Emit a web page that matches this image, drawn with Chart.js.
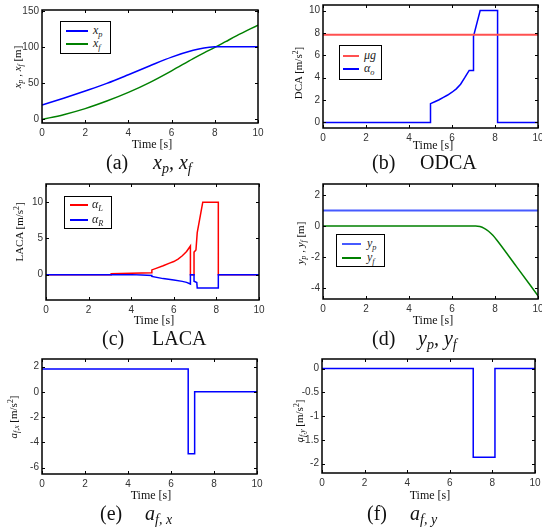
<!DOCTYPE html>
<html>
<head>
<meta charset="utf-8">
<script src="https://cdn.jsdelivr.net/npm/chart.js@4.4.1/dist/chart.umd.min.js"></script>
<style>
  html, body { margin: 0; padding: 0; background: #fff; overflow: hidden; }
  body { width: 542px; height: 529px; position: relative; font-family: "Liberation Serif", "Times New Roman", serif; color: #111; }
  canvas { position: absolute; }
  .lbl { position: absolute; white-space: nowrap; line-height: 1; }
  .ytitle { font-size: 11px; transform: translate(-50%, -50%) rotate(-90deg); }
  .xtitle { font-size: 12px; transform: translate(-50%, -50%); }
  .cap { font-size: 20px; transform: translateY(-50%); }
  sub { font-size: 0.7em; vertical-align: -0.3em; line-height: 0; }
  sup { font-size: 0.7em; vertical-align: 0.4em; line-height: 0; }
  .legend { position: absolute; background: #fff; border: 1px solid #000; box-sizing: border-box; }
  .legend .ln { position: absolute; }
  .legend .tx { position: absolute; font-size: 12px; font-style: italic; line-height: 1; color: #222; transform: translateY(-55%); }
</style>
</head>
<body>
<script>
// shared time ticks
const timeTicks = [0, 2, 4, 6, 8, 10];

// (a) x_p, x_f
const tA = [0, 1, 2, 3, 4, 5, 6, 7, 7.5, 8, 8.5, 9, 10];
const xP = [20, 29.5, 39.5, 50, 62, 74.5, 86.5, 96, 99.3, 100.8, 101, 101, 101];
const xF = [0, 6.6, 15, 25.5, 37.5, 51.5, 67.5, 84.5, 92.5, 100, 108, 116, 131];
const yTicksA = [0, 50, 100, 150];

// (b) ODCA
const tMu = [0, 10];
const muG = [7.84, 7.84];
const tB = [0, 5, 5, 5.2, 5.4, 5.6, 5.8, 6, 6.2, 6.4, 6.6, 6.7, 6.8, 7, 7, 7.31, 8.12, 8.12, 10];
const aO = [0, 0, 1.68, 1.85, 2.03, 2.24, 2.45, 2.7, 3.0, 3.42, 4.02, 4.35, 4.65, 4.65, 7.7, 10, 10, 0, 0];
const yTicksB = [0, 2, 4, 6, 8, 10];

// (c) LACA
const tL = [0, 3.06, 3.06, 4.97, 4.97, 5.2, 5.5, 5.8, 6.0, 6.2, 6.4, 6.6, 6.78, 6.78, 6.95, 6.95, 7.04, 7.1, 7.36, 8.09, 8.09, 10];
const aL = [0, 0, 0.12, 0.25, 0.65, 0.9, 1.22, 1.58, 1.8, 2.15, 2.6, 3.2, 3.95, 0, 0, 3.1, 3.4, 5.8, 10, 10, 0, 0];
const tR = [0, 4.0, 4.5, 4.97, 4.97, 5.5, 6.0, 6.4, 6.6, 6.78, 6.78, 6.95, 6.95, 7.08, 7.1, 8.09, 8.09, 10];
const aR = [0, 0, -0.05, -0.12, -0.25, -0.55, -0.74, -0.93, -1.07, -1.3, 0, 0, -0.92, -1.1, -1.86, -1.86, 0, 0];
const yTicksC = [0, 5, 10];

// (d) y_p, y_f
const tYp = [0, 10];
const yP = [1, 1];
const tYf = [0, 7.1, 7.3, 7.5, 7.7, 7.9, 8.1, 9, 10];
const yF = [0, 0, -0.04, -0.15, -0.34, -0.6, -0.94, -2.62, -4.49];
const yTicksD = [-4, -2, 0, 2];

// (e) a_f,x
const tAx = [0, 6.8, 6.8, 7.1, 7.1, 10];
const aFx = [1.8, 1.8, -4.9, -4.9, 0, 0];
const yTicksE = [-6, -4, -2, 0, 2];

// (f) a_f,y
const tAy = [0, 7.1, 7.1, 8.12, 8.12, 10];
const aFy = [0, 0, -1.87, -1.87, 0, 0];
const yTicksF = [-2, -1.5, -1, -0.5, 0];

const BLUE = 'rgb(0,0,255)', GREEN = 'rgb(0,128,0)', RED = 'rgb(255,0,0)';
const LIGHTRED = 'rgb(255,80,80)', LIGHTBLUE = 'rgb(70,90,255)';

function pts(ts, vs) {
  return ts.map((t, i) => ({ x: t, y: vs[i] }));
}

function line(ts, vs, color, width, smooth) {
  return {
    data: pts(ts, vs), borderColor: color, borderWidth: width || 1.5,
    pointRadius: 0, fill: false, tension: 0,
    cubicInterpolationMode: smooth ? 'monotone' : 'default'
  };
}

// matlab style box with inward ticks on every side
const boxPlugin = {
  id: 'matlabBox',
  afterDatasetsDraw(chart) {
    const { ctx, chartArea: a } = chart;
    const sx = chart.scales.x, sy = chart.scales.y;
    ctx.save();
    ctx.strokeStyle = '#000';
    ctx.lineWidth = 1;
    ctx.beginPath();
    sx.ticks.forEach(t => {
      const px = Math.round(sx.getPixelForValue(t.value)) + 0.5;
      ctx.moveTo(px, a.bottom); ctx.lineTo(px, a.bottom - 3);
      ctx.moveTo(px, a.top); ctx.lineTo(px, a.top + 3);
    });
    sy.ticks.forEach(t => {
      const py = Math.round(sy.getPixelForValue(t.value)) + 0.5;
      ctx.moveTo(a.left, py); ctx.lineTo(a.left + 3, py);
      ctx.moveTo(a.right, py); ctx.lineTo(a.right - 3, py);
    });
    ctx.stroke();
    ctx.lineWidth = 1.5;
    ctx.strokeRect(a.left, a.top, a.right - a.left, a.bottom - a.top);
    ctx.restore();
  }
};

function makePanel(area, yMin, yMax, yTicks, datasets) {
  const padTop = 12, padRight = 14, yW = 36, xH = 22;
  const cv = document.createElement('canvas');
  cv.width = area.r - area.l + yW + padRight;
  cv.height = area.b - area.t + padTop + xH;
  cv.style.left = (area.l - yW) + 'px';
  cv.style.top = (area.t - padTop) + 'px';
  document.body.appendChild(cv);
  const tickFont = { family: '"Liberation Sans", Arial, sans-serif', size: 10 };
  new Chart(cv, {
    type: 'line',
    data: { datasets: datasets },
    options: {
      responsive: false,
      animation: false,
      devicePixelRatio: 1,
      layout: { padding: { left: 0, top: padTop, right: padRight, bottom: 0 } },
      plugins: { legend: { display: false }, tooltip: { enabled: false } },
      scales: {
        x: {
          type: 'linear', min: 0, max: 10,
          grid: { display: false, drawTicks: false }, border: { display: false },
          ticks: { font: tickFont, color: '#333', padding: 4, autoSkip: false, maxRotation: 0, callback: v => String(v) },
          afterBuildTicks: s => { s.ticks = timeTicks.map(v => ({ value: v })); },
          afterFit: s => { s.height = xH; }
        },
        y: {
          type: 'linear', min: yMin, max: yMax,
          grid: { display: false, drawTicks: false }, border: { display: false },
          ticks: { font: tickFont, color: '#333', padding: 3, autoSkip: false, callback: v => String(v) },
          afterBuildTicks: s => { s.ticks = yTicks.map(v => ({ value: v })); },
          afterFit: s => { s.width = yW; }
        }
      }
    },
    plugins: [boxPlugin]
  });
}

function addText(cls, html, x, y) {
  const d = document.createElement('div');
  d.className = 'lbl ' + cls;
  d.innerHTML = html;
  d.style.left = x + 'px';
  d.style.top = y + 'px';
  document.body.appendChild(d);
}

function addLegend(x, y, w, h, rows) {
  const box = document.createElement('div');
  box.className = 'legend';
  Object.assign(box.style, { left: x + 'px', top: y + 'px', width: w + 'px', height: h + 'px' });
  rows.forEach(r => {
    const ln = document.createElement('div');
    ln.className = 'ln';
    Object.assign(ln.style, { left: r.lx + 'px', top: (r.dy - r.lw / 2) + 'px', width: r.len + 'px', height: r.lw + 'px', backgroundColor: r.color });
    box.appendChild(ln);
    const tx = document.createElement('div');
    tx.className = 'tx';
    tx.innerHTML = r.html;
    Object.assign(tx.style, { left: r.tx + 'px', top: r.dy + 'px' });
    box.appendChild(tx);
  });
  document.body.appendChild(box);
}

// panels
makePanel({ l: 42, t: 10, r: 258, b: 123 }, -5, 152, yTicksA, [
  line(tA, xP, BLUE, 1.5, true),
  line(tA, xF, GREEN, 1.5, true)
]);
makePanel({ l: 323, t: 5, r: 538, b: 128 }, -0.5, 10.5, yTicksB, [
  line(tMu, muG, LIGHTRED, 2),
  line(tB, aO, BLUE, 1.5)
]);
makePanel({ l: 46, t: 184, r: 259, b: 300 }, -3.5, 12.5, yTicksC, [
  line(tR, aR, BLUE, 1.5),
  line(tL, aL, RED, 1.5)
]);
makePanel({ l: 323, t: 184, r: 538, b: 299 }, -4.7, 2.7, yTicksD, [
  line(tYp, yP, LIGHTBLUE, 2),
  line(tYf, yF, GREEN, 1.5, true)
]);
makePanel({ l: 42, t: 359, r: 257, b: 474 }, -6.5, 2.6, yTicksE, [
  line(tAx, aFx, BLUE, 1.5)
]);
makePanel({ l: 322, t: 359, r: 535, b: 473 }, -2.2, 0.2, yTicksF, [
  line(tAy, aFy, BLUE, 1.5)
]);

// x axis titles
[[152, 144], [433, 145], [154, 320], [433, 320], [151, 495], [430, 495]].forEach(p => addText('xtitle', 'Time [s]', p[0], p[1]));

// y axis titles
addText('ytitle', '<i>x<sub>p</sub></i> , <i>x<sub>f</sub></i> [m]', 17, 67);
addText('ytitle', 'DCA [m/s<sup>2</sup>]', 298, 73);
addText('ytitle', 'LACA [m/s<sup>2</sup>]', 19, 232);
addText('ytitle', '<i>y<sub>p</sub></i> , <i>y<sub>f</sub></i> [m]', 300, 243);
addText('ytitle', '<i>a<sub>f,x</sub></i> [m/s<sup>2</sup>]', 13, 417);
addText('ytitle', '<i>a<sub>f,y</sub></i> [m/s<sup>2</sup>]', 299, 421);

// captions
addText('cap', '(a)', 106, 162);
addText('cap', '<i>x<sub>p</sub>, x<sub>f</sub></i>', 153, 162);
addText('cap', '(b)', 372, 162);
addText('cap', 'ODCA', 420, 162);
addText('cap', '(c)', 102, 338);
addText('cap', 'LACA', 152, 338);
addText('cap', '(d)', 372, 338);
addText('cap', '<i>y<sub>p</sub>, y<sub>f</sub></i>', 418, 338);
addText('cap', '(e)', 100, 513);
addText('cap', '<i>a<sub>f, x</sub></i>', 145, 513);
addText('cap', '(f)', 367, 513);
addText('cap', '<i>a<sub>f, y</sub></i>', 410, 513);

// legends
addLegend(60, 21, 51, 33, [
  { dy: 9, lx: 5, len: 22, lw: 1.5, color: BLUE, tx: 32, html: 'x<sub>p</sub>' },
  { dy: 22, lx: 5, len: 22, lw: 1.5, color: GREEN, tx: 32, html: 'x<sub>f</sub>' }
]);
addLegend(339, 45, 43, 35, [
  { dy: 10, lx: 3, len: 16, lw: 2, color: LIGHTRED, tx: 24, html: 'μg' },
  { dy: 23, lx: 3, len: 16, lw: 1.5, color: BLUE, tx: 24, html: 'α<sub>o</sub>' }
]);
addLegend(64, 196, 48, 33, [
  { dy: 8, lx: 5, len: 18, lw: 1.5, color: RED, tx: 27, html: 'α<sub>L</sub>' },
  { dy: 23, lx: 5, len: 18, lw: 1.5, color: BLUE, tx: 27, html: 'α<sub>R</sub>' }
]);
addLegend(336, 234, 49, 33, [
  { dy: 9, lx: 5, len: 19, lw: 2, color: LIGHTBLUE, tx: 30, html: 'y<sub>p</sub>' },
  { dy: 23, lx: 5, len: 19, lw: 1.5, color: GREEN, tx: 30, html: 'y<sub>f</sub>' }
]);
</script>
</body>
</html>
